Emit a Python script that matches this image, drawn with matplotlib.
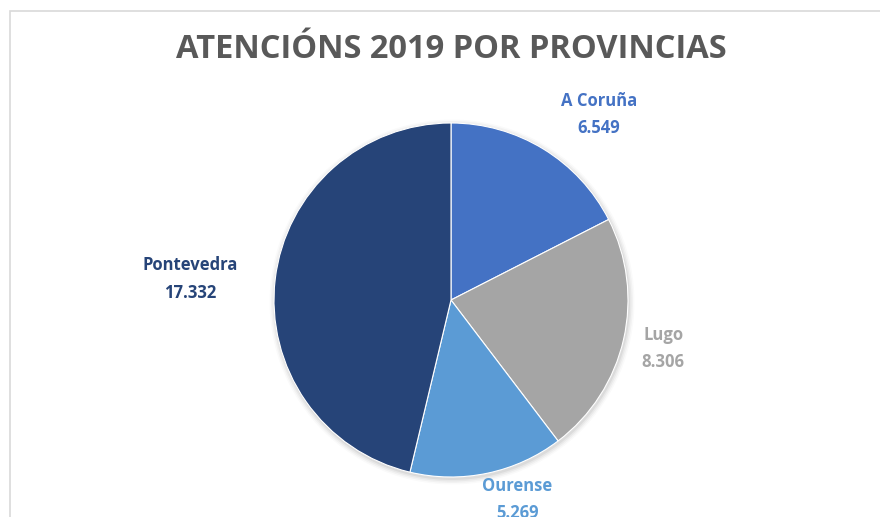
import numpy as np
import matplotlib.pyplot as plt
from matplotlib.patches import Circle, Rectangle

provincias = ["A Coruña", "Lugo", "Ourense", "Pontevedra"]
atencions = [6549, 8306, 5269, 17332]
etiquetas = ["6.549", "8.306", "5.269", "17.332"]
cores = ["#4472C4", "#A5A5A5", "#5B9BD5", "#264478"]

W, H = 880, 517
cx, cy, r = 451, H - 300, 177
# label placement (angle in degrees, distance in radii)
label_pos = [(51.5, 1.34), (-12.8, 1.23), (-71.6, 1.19), (175.4, 1.48)]

fig = plt.figure(figsize=(W / 100, H / 100), dpi=100)
ax = fig.add_axes([0, 0, 1, 1])
ax.set_xlim(0, W)
ax.set_ylim(0, H)
ax.set_aspect("equal")
ax.axis("off")

# chart frame
ax.add_patch(Rectangle((9.5, -20), W + 40, H - 11 + 20, fill=False,
                       edgecolor="#D9D9D9", linewidth=1.2))

# soft shadow
for i, a in enumerate([0.05, 0.04, 0.03, 0.02]):
    ax.add_patch(Circle((cx + 1, cy - 2), r + 1 + i * 1.5, color="black",
                        alpha=a, linewidth=0, zorder=1))

ax.pie(atencions, colors=cores, startangle=90, counterclock=False,
       center=(cx, cy), radius=r, frame=True,
       wedgeprops=dict(edgecolor="white", linewidth=0.8, zorder=2))
ax.set_xlim(0, W)
ax.set_ylim(0, H)
ax.axis("off")

for nome, val, col, (ang, d) in zip(provincias, etiquetas, cores, label_pos):
    x = cx + d * r * np.cos(np.radians(ang))
    y = cy + d * r * np.sin(np.radians(ang))
    ax.text(x, y, f"{nome}\n{val}", color=col, ha="center", va="center",
            fontsize=12, fontweight="bold", family="Open Sans",
            linespacing=1.65)

ax.text(W / 2 + 11, H - 50, "ATENCIÓNS 2019 POR PROVINCIAS", color="#595959",
        ha="center", va="center", fontsize=23.5, fontweight="bold",
        family="Open Sans")

fig.savefig("out.png", dpi=100)
